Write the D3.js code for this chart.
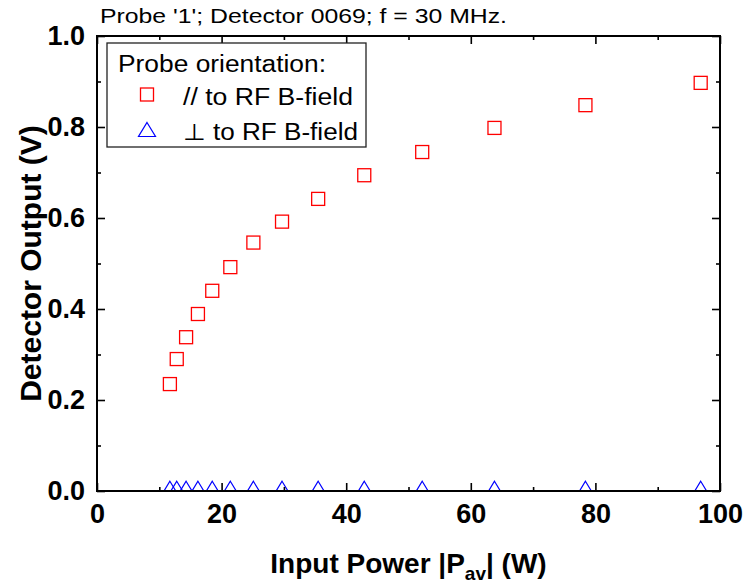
<!DOCTYPE html>
<html>
<head>
<meta charset="utf-8">
<script src="https://cdn.jsdelivr.net/npm/d3@7"></script>
<style>
  body { margin: 0; background: #fff; }
  svg { display: block; font-family: "Liberation Sans", Arial, sans-serif; }
</style>
</head>
<body>
<svg id="chart" width="748" height="586"></svg>
<script>
// ---- data ----
const titleText = "Probe '1'; Detector 0069; f = 30 MHz.";
const powerW = [11.7, 12.8, 14.3, 16.2, 18.5, 21.4, 25.1, 29.7, 35.5, 42.9, 52.2, 63.8, 78.4, 96.9];
const outParallel = [0.235, 0.290, 0.338, 0.389, 0.440, 0.492, 0.546, 0.592, 0.642, 0.694, 0.745, 0.798, 0.848, 0.897];
const outPerp = [0.006, 0.006, 0.006, 0.006, 0.006, 0.006, 0.006, 0.006, 0.006, 0.006, 0.006, 0.006, 0.006, 0.006];
const xTicks = [0, 20, 40, 60, 80, 100];
const xMinorTicks = [10, 30, 50, 70, 90];
const yTicks = [0.0, 0.2, 0.4, 0.6, 0.8, 1.0];
const yMinorTicks = [0.1, 0.3, 0.5, 0.7, 0.9];
const legendTitle = "Probe orientation:";
const seriesNames = ["// to RF B-field", "\u22A5 to RF B-field"];

// ---- layout ----
const L = 97, R = 720, T = 36, B = 491;
const svg = d3.select("#chart");
const x = d3.scaleLinear().domain([0, 100]).range([L, R]);
const y = d3.scaleLinear().domain([0, 1]).range([B, T]);

svg.append("defs").append("clipPath").attr("id", "plotclip")
  .append("rect").attr("x", L).attr("y", T).attr("width", R - L).attr("height", B - T);

// ---- data marks ----
const sqSize = 13;
const triPath = "M0,-7 L8.5,7 L-8.5,7 Z";
const marks = svg.append("g").attr("clip-path", "url(#plotclip)");
marks.selectAll("rect.par").data(powerW).join("rect")
  .attr("class", "par")
  .attr("x", d => x(d) - sqSize / 2)
  .attr("y", (d, i) => y(outParallel[i]) - sqSize / 2)
  .attr("width", sqSize).attr("height", sqSize)
  .attr("fill", "none").attr("stroke", "#ff0000").attr("stroke-width", 1.3);
marks.selectAll("path.perp").data(powerW).join("path")
  .attr("class", "perp")
  .attr("transform", (d, i) => `translate(${x(d)},${y(outPerp[i])})`)
  .attr("d", triPath)
  .attr("fill", "none").attr("stroke", "#0000ff").attr("stroke-width", 1.2);

// ---- axes ----
function styleAxis(g) {
  g.select(".domain").remove();
  g.selectAll(".tick line").attr("stroke", "#000").attr("stroke-width", 1.6);
}
const tickFont = g => g.selectAll("text")
  .attr("font-size", 27).attr("font-weight", "bold").attr("fill", "#000")
  .attr("font-family", "'Liberation Sans', Arial, sans-serif");

svg.append("g").attr("transform", `translate(0,${B})`)
  .call(d3.axisBottom(x).tickValues(xTicks).tickSize(-8).tickPadding(13).tickFormat(d3.format("d")))
  .call(styleAxis).call(tickFont);
svg.append("g").attr("transform", `translate(0,${B})`)
  .call(d3.axisBottom(x).tickValues(xMinorTicks).tickSize(-4).tickFormat(""))
  .call(styleAxis);
svg.append("g").attr("transform", `translate(0,${T})`)
  .call(d3.axisTop(x).tickValues(xTicks).tickSize(-8).tickFormat(""))
  .call(styleAxis);
svg.append("g").attr("transform", `translate(0,${T})`)
  .call(d3.axisTop(x).tickValues(xMinorTicks).tickSize(-4).tickFormat(""))
  .call(styleAxis);

svg.append("g").attr("transform", `translate(${L},0)`)
  .call(d3.axisLeft(y).tickValues(yTicks).tickSize(-8).tickPadding(12).tickFormat(d3.format(".1f")))
  .call(styleAxis).call(tickFont);
svg.append("g").attr("transform", `translate(${L},0)`)
  .call(d3.axisLeft(y).tickValues(yMinorTicks).tickSize(-4).tickFormat(""))
  .call(styleAxis);
svg.append("g").attr("transform", `translate(${R},0)`)
  .call(d3.axisRight(y).tickValues(yTicks).tickSize(-8).tickFormat(""))
  .call(styleAxis);
svg.append("g").attr("transform", `translate(${R},0)`)
  .call(d3.axisRight(y).tickValues(yMinorTicks).tickSize(-4).tickFormat(""))
  .call(styleAxis);

// frame
svg.append("rect").attr("x", L).attr("y", T).attr("width", R - L).attr("height", B - T)
  .attr("fill", "none").attr("stroke", "#000").attr("stroke-width", 2);

// ---- titles ----
svg.append("text").attr("x", 100).attr("y", 23)
  .attr("font-size", 21).attr("textLength", 407).attr("lengthAdjust", "spacingAndGlyphs")
  .text(titleText);

const xl = svg.append("text").attr("x", (L + R) / 2).attr("y", 573)
  .attr("text-anchor", "middle").attr("font-size", 28).attr("font-weight", "bold");
xl.append("tspan").text("Input Power |P");
xl.append("tspan").attr("font-size", 19).attr("dy", 7).text("av");
xl.append("tspan").attr("dy", -7).text("| (W)");

svg.append("text")
  .attr("transform", `translate(41,${(T + B) / 2}) rotate(-90)`)
  .attr("text-anchor", "middle").attr("font-size", 30).attr("font-weight", "bold")
  .text("Detector Output (V)");

// ---- legend ----
const lg = svg.append("g");
lg.append("rect").attr("x", 107).attr("y", 43).attr("width", 259).attr("height", 104)
  .attr("fill", "#fff").attr("stroke", "#222").attr("stroke-width", 1.3);
lg.append("text").attr("x", 118).attr("y", 72).attr("font-size", 23)
  .attr("textLength", 208).attr("lengthAdjust", "spacingAndGlyphs").text(legendTitle);
lg.append("rect").attr("x", 147 - sqSize / 2).attr("y", 94.5 - sqSize / 2)
  .attr("width", sqSize).attr("height", sqSize)
  .attr("fill", "none").attr("stroke", "#ff0000").attr("stroke-width", 1.3);
lg.append("path").attr("transform", "translate(147,129.5)").attr("d", triPath)
  .attr("fill", "none").attr("stroke", "#0000ff").attr("stroke-width", 1.2);
lg.append("text").attr("x", 183).attr("y", 105).attr("font-size", 23)
  .attr("textLength", 170).attr("lengthAdjust", "spacingAndGlyphs").text(seriesNames[0]);
lg.append("text").attr("x", 183).attr("y", 140).attr("font-size", 23)
  .attr("textLength", 175).attr("lengthAdjust", "spacingAndGlyphs").text(seriesNames[1]);
</script>
</body>
</html>
